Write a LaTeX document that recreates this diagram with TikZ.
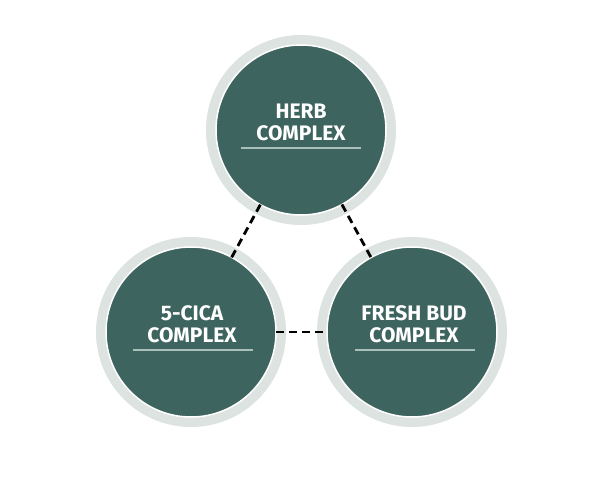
\documentclass[tikz,border=0pt]{standalone}
\usepackage{fontspec}
\setmainfont{Fira Sans}
\usepackage{tikz}
\usetikzlibrary{calc, positioning}

\definecolor{ringgray}{HTML}{DCE3E0}
\definecolor{cicagreen}{HTML}{3E645F}
\definecolor{rulegray}{HTML}{A8BFBA}

\tikzset{
    ring/.style={circle, fill=ringgray, minimum size=190pt, inner sep=0pt, outer sep=0pt},
    core/.style={circle, fill=cicagreen, draw=white, line width=1.5pt, minimum size=170pt, inner sep=0pt, outer sep=0pt},
    title/.style={text=white, font=\fontsize{21}{22}\selectfont\bfseries, align=center},
    link/.style={line width=2.8pt, dash pattern=on 8pt off 5pt},
    underline/.style={rulegray, line width=1.2pt}
}

\begin{document}
\begin{tikzpicture}[x=1pt,y=-1pt]
        \useasboundingbox (0,0) rectangle (600,487);

            % outer rings
            \node[ring] at (301,130) {};
            \node[ring] at (191,332) {};
            \node[ring] at (412,332) {};

            % inner discs
            \node[core] (herb) at (301,130) {};
            \node[core] (cica) at (191,332) {};
            \node[core] (bud) at (412,332) {};

            \draw[link] (herb) -- (cica);
            \draw[link] (herb) -- (bud);
            \draw[link] (cica) -- (bud);

            \node[title] (herbtxt) at ($(herb.center)+(0,-8)$) {HERB\\COMPLEX};
            \node[title] (cicatxt) at ($(cica.center)+(1,-8)$) {5-CICA\\COMPLEX};
            \node[title] (budtxt) at ($(bud.center)+(2,-8)$) {FRESH BUD\\COMPLEX};

            \draw[underline] ($(herb.center)+(-60,18)$) -- ($(herb.center)+(60,18)$);
            \draw[underline] ($(cica.center)+(-58,18)$) -- ($(cica.center)+(62,18)$);
            \draw[underline] ($(bud.center)+(-57,18)$) -- ($(bud.center)+(63,18)$);
        \end{tikzpicture}
\end{document}
